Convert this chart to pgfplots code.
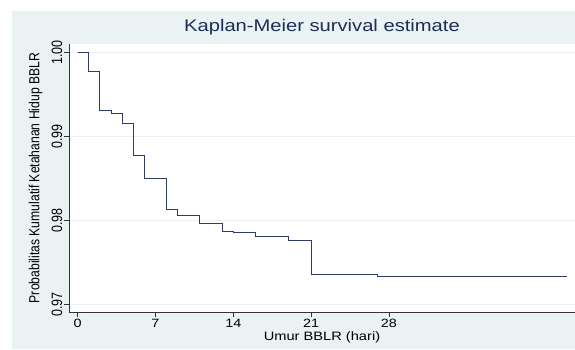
\documentclass[border=0pt]{standalone}
\usepackage{pgfplots}
\pgfplotsset{compat=1.18}
\usepackage{fontspec}
\setmainfont{Liberation Sans}
\newfontfamily\hfont{Liberation Sans}[FakeStretch=1.2]
\newfontfamily\vfont{Liberation Sans}[FakeStretch=0.8333]
\definecolor{bgc}{HTML}{EAF2F3}
\definecolor{titc}{HTML}{1E2D55}
\definecolor{linec}{HTML}{2E3C66}
\begin{document}
\begin{tikzpicture}[x=1pt,y=1pt]
\useasboundingbox (-69,-37) rectangle (506,312);
\fill[white] (-69,-37) rectangle (506,312);
\fill[bgc] (-57,-37) rectangle (506,301);
\begin{axis}[
 at={(0,0)}, anchor=south west, scale only axis, width=506pt, height=268pt,
 xmin=-0.78, xmax=44.73, ymin=0.969083, ymax=1.000988,
 axis background/.style={fill=white},
 axis lines*=left, axis line style={black!80, line width=0.8pt},
 tick align=outside, major tick length=5pt, tick style={black!80, line width=0.8pt},
 xtick={0,7,14,21,28}, ytick={0.97,0.98,0.99,1.00},
 minor tick num=0,
 ymajorgrids, grid style={bgc, line width=0.8pt},
 /pgf/number format/assume math mode=true,
 xticklabel style={font=\hfont\fontsize{12}{12}\selectfont, inner sep=2pt},
 yticklabel style={font=\vfont\fontsize{15}{12}\selectfont, rotate=90, anchor=south, inner sep=1.5pt,
   /pgf/number format/fixed, /pgf/number format/fixed zerofill, /pgf/number format/precision=2},
 title={Kaplan-Meier survival estimate},
 title style={font=\hfont\fontsize{16.8}{17}\selectfont, text=titc, at={(axis description cs:0.5,1.041)}, anchor=center},
 xlabel={Umur BBLR (hari)},
 xlabel style={font=\hfont\fontsize{12.2}{12}\selectfont, at={(axis description cs:0.5,-0.0959)}, anchor=center},
 ylabel={Probabilitas Kumulatif Ketahanan Hidup BBLR},
 ylabel style={font=\vfont\fontsize{14.6}{12}\selectfont, at={(axis description cs:-0.0662,0.5)}, anchor=center, rotate=0},
]
\addplot[const plot, linec, line width=1pt] coordinates {
(0,1.0) (1,0.99774) (2,0.99310) (3,0.99269) (4,0.99155) (5,0.98769) (6,0.98492)
(8,0.98123) (9,0.98055) (11,0.97964) (13,0.97869) (14,0.97849) (16,0.97813)
(19,0.97765) (21,0.97360) (27,0.97329) (44,0.97329)};
\end{axis}
\end{tikzpicture}
\end{document}
